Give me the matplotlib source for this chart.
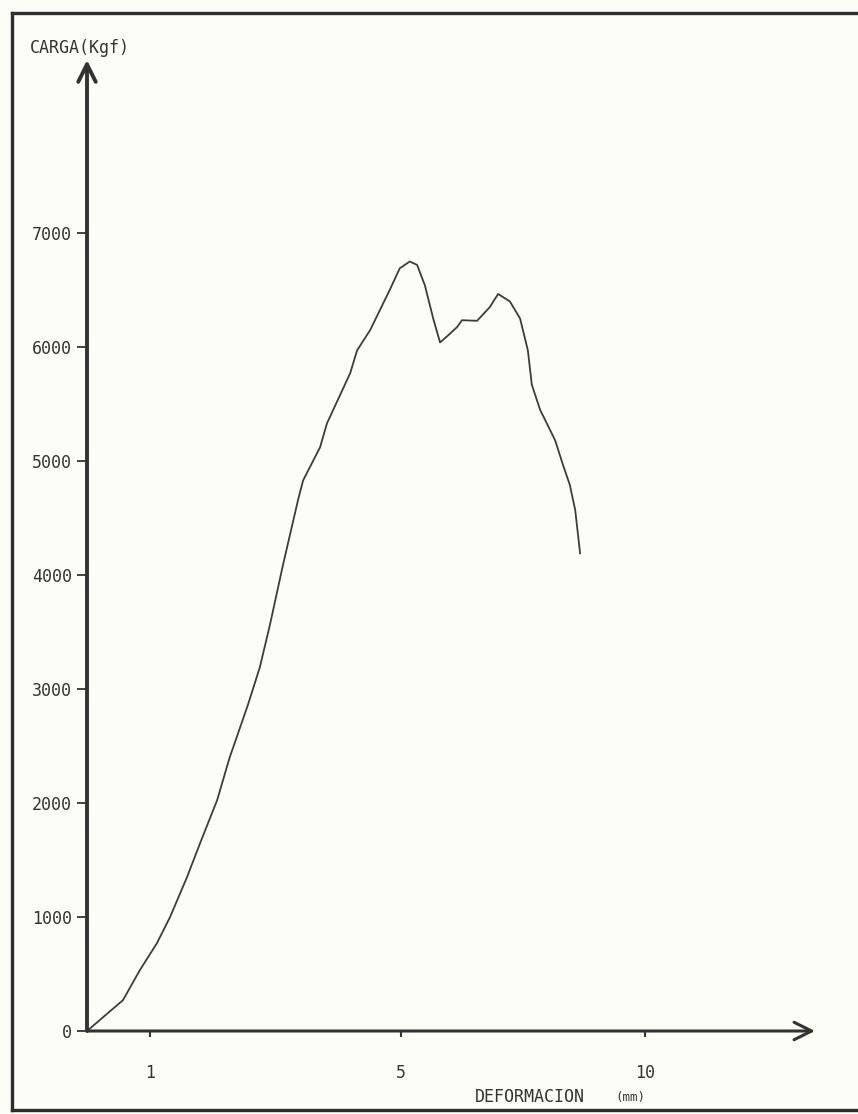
import matplotlib
matplotlib.use("Agg")
import matplotlib.pyplot as plt
import numpy as np
from matplotlib.lines import Line2D

# deformacion (mm) y carga (Kgf)
deformacion = [0.0, 0.57, 0.84, 1.11, 1.32, 1.59, 1.80, 2.07, 2.27, 2.56, 2.75,
               2.91, 3.12, 3.36, 3.44, 3.71, 3.82, 4.19, 4.30, 4.51, 4.82, 4.98,
               5.18, 5.33, 5.49, 5.66, 5.80, 5.96, 6.15, 6.25, 6.56, 6.82, 6.99,
               7.23, 7.44, 7.60, 7.68, 7.85, 8.16, 8.32, 8.46, 8.57, 8.67]
carga = [0, 270, 535, 770, 1000, 1350, 1650, 2025, 2400, 2860, 3190,
         3560, 4090, 4660, 4830, 5120, 5330, 5770, 5970, 6150, 6500, 6690,
         6750, 6720, 6540, 6250, 6040, 6100, 6175, 6235, 6230, 6350, 6465,
         6400, 6250, 5970, 5670, 5450, 5180, 4965, 4790, 4570, 4190]

xticks = [1, 5, 10]
xtick_labels = ["1", "5", "10"]
yticks = [0, 1000, 2000, 3000, 4000, 5000, 6000, 7000]
ytick_labels = ["0", "1000", "2000", "3000", "4000", "5000", "6000", "7000"]

# the old plotter's x scale is not quite linear past 5 mm
_mm = [0, 1, 5, 10, 30]
_px = [0, 63, 314, 558, 1534]
def fwd(x):
    return np.interp(x, _mm, _px)
def inv(p):
    return np.interp(p, _px, _mm)

ink = "#333333"
paper = "#fdfdf7"
W, H = 858, 1114

fig = plt.figure(figsize=(W / 100, H / 100), dpi=100, facecolor=paper)
x0, y0, x1, ytop = 87, 1031, 815, 60
ax = fig.add_axes([x0 / W, (H - y0) / H, (x1 - x0) / W, (y0 - ytop) / H])
ax.set_facecolor(paper)
ax.set_xscale("function", functions=(fwd, inv))
ax.set_xlim(0, inv(x1 - x0))
ax.set_ylim(0, (y0 - ytop) / 0.114)

ax.plot(deformacion, carga, color="#3c3c3c", lw=1.3, clip_on=False)

for s in ax.spines.values():
    s.set_visible(False)
# axes as arrows
ax.annotate("", xy=(1, 0), xytext=(0, 0), xycoords="axes fraction",
            arrowprops=dict(arrowstyle="->,head_length=0.7,head_width=0.35",
                            color=ink, lw=2.2, mutation_scale=18,
                            shrinkA=0, shrinkB=0))
ax.annotate("", xy=(0, 1), xytext=(0, 0), xycoords="axes fraction",
            arrowprops=dict(arrowstyle="->,head_length=0.7,head_width=0.35",
                            color=ink, lw=2.8, mutation_scale=18,
                            shrinkA=0, shrinkB=0))

mono = "DejaVu Sans Mono"
ax.set_xticks(xticks)
ax.set_xticklabels(xtick_labels, family=mono, fontsize=12, color=ink)
ax.set_yticks(yticks)
ax.set_yticklabels(ytick_labels, family=mono, fontsize=12, color=ink)
ax.tick_params(axis="x", direction="out", length=4, width=1.5, color=ink, pad=20)
ax.tick_params(axis="y", direction="out", length=7, width=1.3, color=ink, pad=4)
ax.minorticks_off()

fig.text(80 / W, 1 - 48 / H, "CARGA(Kgf)", family=mono, fontsize=12, color=ink,
         ha="center", va="center")
fig.text(530 / W, 1 - 1097 / H, "DEFORMACION", family=mono, fontsize=12, color=ink,
         ha="center", va="center")
fig.text(630 / W, 1 - 1097 / H, "(mm)", family=mono, fontsize=9, color=ink,
         ha="center", va="center")

# outer frame (right side runs off the page)
for xs, ys in [([12, 12], [13, 1110]), ([12, 858], [13, 13]), ([12, 858], [1110, 1110])]:
    fig.add_artist(Line2D([x / W for x in xs], [1 - y / H for y in ys],
                          color="#2e2e2e", lw=2.4))

fig.savefig("out.png", dpi=100, facecolor=paper)
